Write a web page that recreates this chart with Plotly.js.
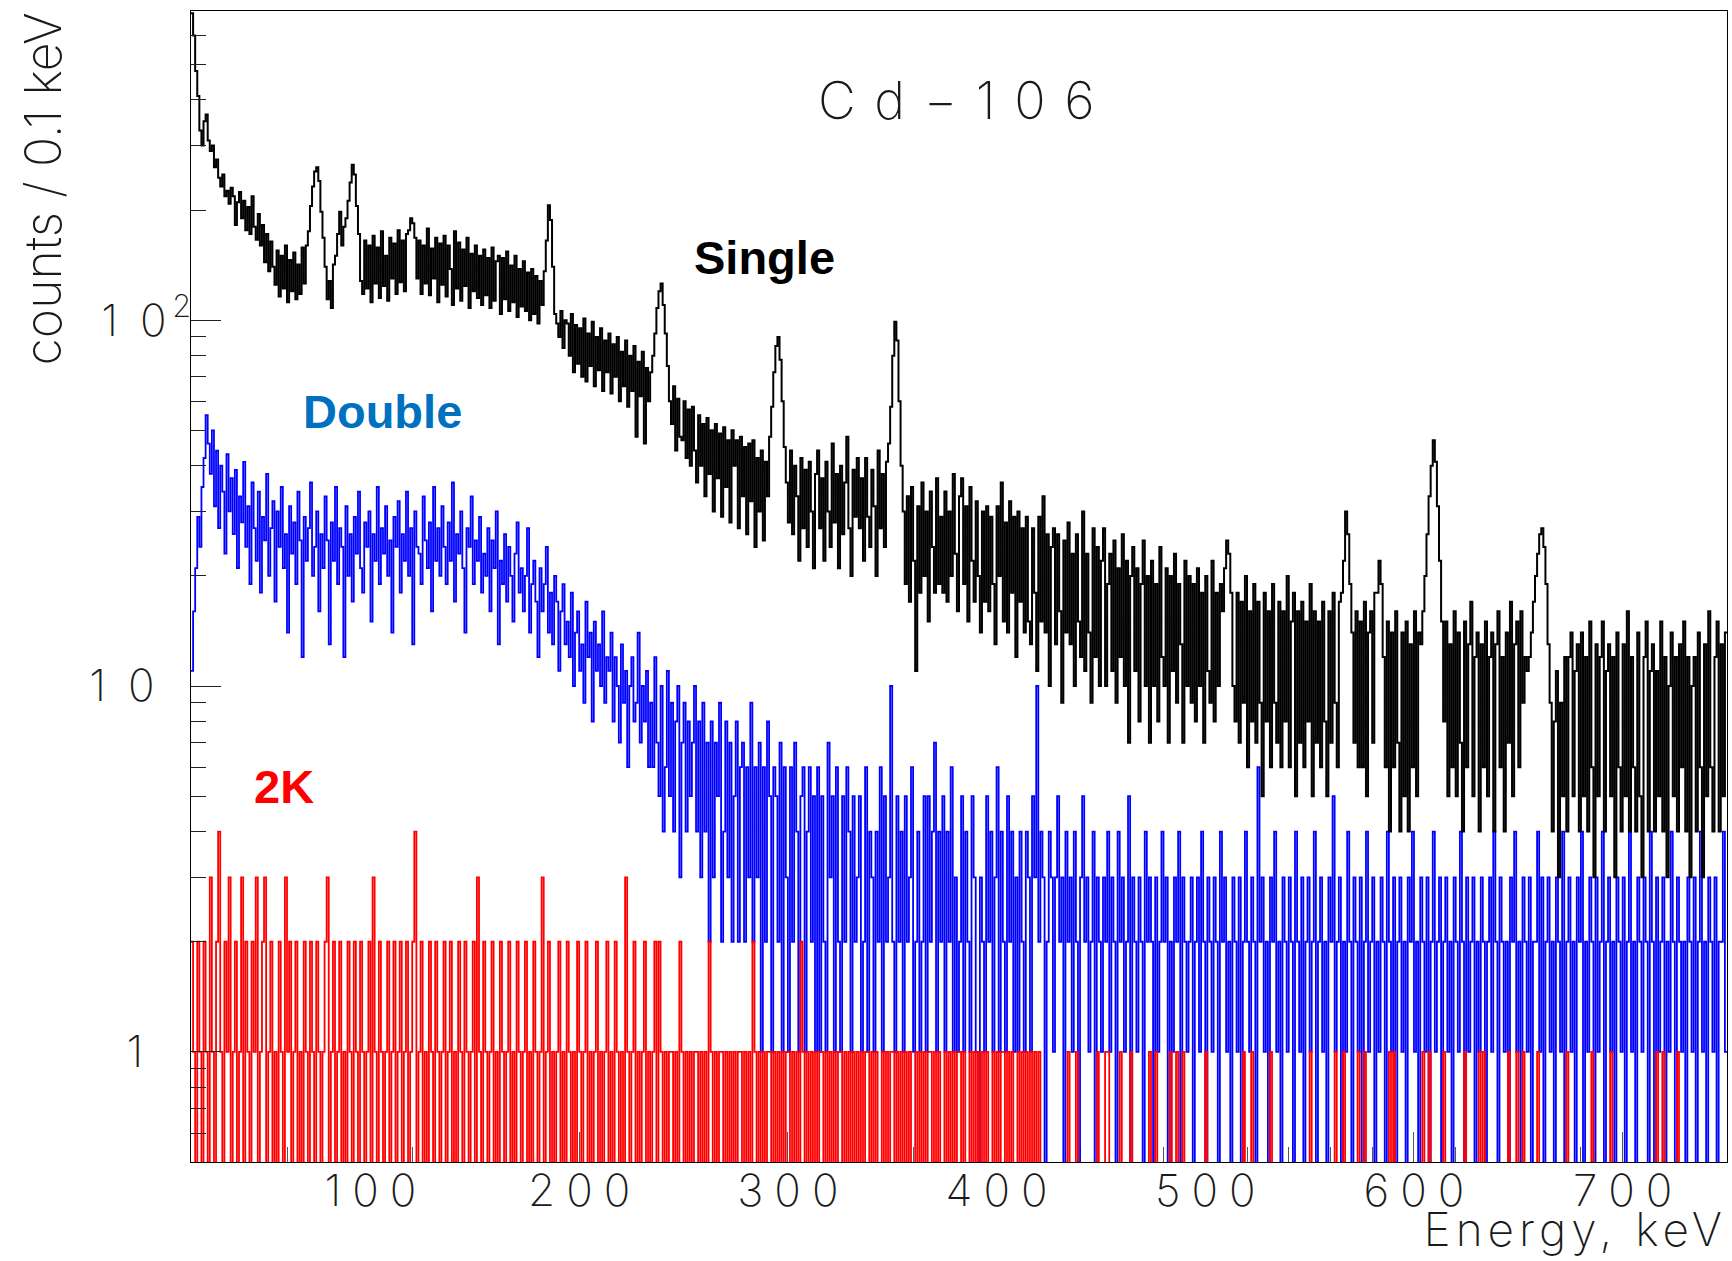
<!DOCTYPE html>
<html>
<head>
<meta charset="utf-8">
<script src="https://cdn.plot.ly/plotly-3.0.1.min.js"></script>
<style>
  html, body { margin: 0; padding: 0; background: #fff; }
  #chart { width: 1732px; height: 1261px; }
  /* wide letter spacing of the thin stroke lettering */
  g.annotation[data-index="0"] text { letter-spacing: 2px; }
  g.annotation[data-index="2"] text { letter-spacing: 5px; }
</style>
</head>
<body>
<div id="chart"></div>
<script>
// Cd-106 spectra: counts per 0.1 keV bin, one value per keV starting at 14 keV.
const binLowEdge = 14;   // keV
const binWidth = 1;      // keV

const singleCounts = [
  690,600,480,410,330,300,350,365,310,290,300,262,275,245,232,250,218,226,208,230,
  218,182,210,224,190,212,176,204,172,218,180,166,195,160,182,144,172,136,164,140,
  125,155,116,150,122,160,112,146,120,153,114,142,118,158,126,160,175,205,232,255,
  262,240,198,168,140,114,128,108,142,150,172,198,160,180,190,212,238,266,250,205,
  172,128,118,165,122,160,112,170,126,158,115,175,124,150,113,168,130,162,118,176,
  127,165,120,172,176,190,184,168,130,165,118,160,126,178,117,157,130,168,112,162,
  125,170,116,160,138,110,175,122,163,113,156,124,168,108,152,120,160,115,150,110,
  156,117,148,108,158,113,145,150,104,148,114,154,106,141,112,150,102,138,109,145,
  106,135,100,138,104,132,98,128,110,136,165,206,188,140,104,98,90,106,84,100,
  98,80,104,72,97,76,95,70,101,68,92,75,99,66,90,73,95,64,88,72,
  92,63,86,70,90,60,82,66,88,58,80,64,85,48,77,62,82,46,74,60,
  72,80,92,108,120,126,110,92,75,60,52,66,44,61,48,47,60,42,57,40,
  58,44,36,55,40,52,33,54,38,50,30,52,37,49,29,51,35,47,28,50,
  40,47,27,48,33,45,26,46,32,47,24,42,30,44,25,41,33,48,58,72,
  85,90,78,60,45,36,28,44,26,40,33,22,42,27,39,24,41,30,21,38,
  44,27,37,22,41,30,24,46,28,38,21,40,26,36,48,27,20,39,29,42,
  27,37,22,42,29,24,39,31,20,44,27,38,24,41,46,58,80,99,88,60,
  40,30,19,33,17,35,22,11,31,18,36,20,30,15,34,24,18,37,19,29,
  18,34,17,30,20,38,23,16,33,37,19,31,15,35,22,17,32,20,14,30,
  17,31,16,29,19,13,31,20,36,15,28,14,32,18,29,12,30,17,27,14,
  29,15,13,27,18,11,29,15,33,14,26,10,24,27,13,26,16,9,25,14,
  28,13,23,10,26,15,12,30,11,23,14,9,27,12,24,10,22,27,10,19,
  23,11,25,9,21,12,26,10,22,7,20,24,11,21,8,19,25,10,20,7,
  22,10,19,8,24,12,10,21,7,20,11,23,9,19,13,7,22,10,20,9,
  19,8,21,10,18,7,20,11,9,22,8,18,10,19,16,21,25,23,18,10,
  8,18,7,17,9,20,6,16,8,19,7,17,9,5,18,8,16,6,19,9,
  7,17,6,16,8,20,6,15,18,5,16,7,17,6,15,8,19,5,16,7,
  15,6,17,8,5,16,7,18,9,6,17,18,22,30,26,19,14,7,16,6,
  15,6,17,5,14,16,7,18,18,22,19,12,6,15,4,14,6,16,7,4,
  14,5,15,4,13,6,16,5,14,13,16,20,26,33,40,47,41,31,22,15,
  8,15,5,13,6,16,5,14,7,4,15,6,13,17,5,12,14,4,13,6,
  15,5,12,14,4,13,16,6,12,4,14,7,17,5,13,15,6,16,9,12,
  11,12,14,17,20,23,26,27,24,19,13,9,4,8,11,3,9,5,12,4,
  12,14,5,11,13,4,14,5,12,4,15,6,3,13,5,12,15,4,11,13,
  5,12,3,14,6,4,13,5,16,4,12,6,4,14,5,3,12,15,4,11,
  13,4,11,5,15,4,12,3,10,14,5,12,4,13,6,15,4,12,3,10,
  12,4,14,6,3,13,5,16,6,4,12,15,4,13,5,14
];

const doubleCounts = [
  11,16,21,29,24,35,42,55,46,38,50,31,44,27,40,34,23,43,30,37,
  26,39,21,33,28,41,24,31,19,36,27,22,34,18,29,25,38,20,27,32,
  17,30,24,35,21,26,14,31,23,28,19,34,25,12,29,22,27,36,20,24,
  30,16,26,21,33,25,13,28,22,35,19,27,24,12,31,20,26,17,29,23,
  34,21,18,28,24,30,15,26,22,35,19,27,23,31,20,25,14,29,24,32,
  18,26,22,34,20,27,13,30,24,23,19,33,25,21,28,16,35,22,27,20,
  31,24,19,28,22,36,17,26,23,30,21,14,27,24,33,19,25,22,29,18,
  23,20,27,16,25,21,30,13,22,19,26,17,24,20,15,23,28,18,21,16,
  20,27,14,19,22,17,12,21,16,19,24,14,18,13,20,17,11,16,19,13,
  15,12,18,10,14,16,11,13,9,17,12,14,8,15,11,13,10,16,9,12,
  11,14,8,12,10,7,13,9,11,6,10,12,8,9,14,7,10,8,11,6,
  9,6,12,7,5,10,4,6,11,5,9,4,8,10,3,7,9,4,8,5,
  7,10,4,8,3,9,4,7,2,8,3,7,5,9,2,4,8,3,7,2,
  5,8,2,6,7,2,6,3,9,2,6,3,7,1,6,2,8,5,1,6,
  5,2,7,1,6,3,1,6,2,7,4,1,5,6,1,4,6,2,5,1,
  6,1,5,2,1,7,3,5,1,6,2,1,5,2,6,4,1,5,2,3,
  5,1,2,6,1,4,3,1,4,2,6,1,5,2,3,10,2,1,5,2,
  4,1,5,2,3,6,1,2,4,1,2,5,1,5,2,4,7,1,4,2,
  5,1,4,2,6,1,3,1,2,5,1,4,2,1,5,3,1,0,3,2,
  1,5,2,4,1,3,6,1,4,2,1,5,2,4,1,3,1,4,2,1,
  4,3,1,5,3,10,2,4,3,0,2,4,3,1,3,5,2,3,0,4,
  2,3,1,4,2,0,3,5,2,3,1,2,4,0,3,2,1,3,2,4,
  1,3,2,0,4,2,3,1,2,5,0,3,2,1,3,2,0,4,2,3,
  2,0,3,1,2,4,2,3,0,2,1,3,2,4,0,3,2,1,2,3,
  0,2,3,1,4,2,0,3,2,1,3,2,0,4,2,3,1,2,0,3,
  2,1,3,0,2,4,2,1,3,2,0,6,2,3,1,2,0,3,2,4,
  1,2,0,3,2,1,3,2,0,4,2,1,3,0,2,3,1,2,4,0,
  2,3,1,2,0,3,2,5,1,2,3,0,2,1,4,2,0,3,2,1,
  3,0,2,4,1,2,3,0,2,1,3,2,0,4,2,1,3,0,2,3,
  1,2,0,3,2,4,1,2,0,3,2,1,3,0,2,4,1,2,3,0,
  2,3,1,2,0,3,2,1,4,2,0,3,1,2,3,0,2,1,3,2,
  0,2,3,1,4,2,0,3,2,1,2,0,3,2,4,1,2,0,3,2,
  1,3,0,2,2,4,1,3,0,2,3,1,2,0,3,2,1,4,0,2,
  3,1,2,0,3,2,4,0,2,1,3,2,0,3,1,2,4,0,2,3,
  1,2,0,3,2,1,3,0,2,4,1,2,0,3,2,1,3,2,0,4,
  2,0,3,1,2,3,0,2,1,4,2,0,3,2,1,2,0,3,2,1,
  3,0,2,4,1,2,0,3,2,1,3,0,2,2,4,1
];

const twoKCounts = [
  2,1,0,2,1,0,2,1,0,3,1,0,2,4,1,0,2,1,3,0,
  1,2,0,1,3,0,2,1,0,2,1,3,0,1,2,3,0,1,2,0,
  1,0,2,1,0,3,1,2,0,1,2,0,1,0,2,1,0,2,1,0,
  2,1,0,1,2,3,0,1,2,0,1,2,0,1,0,2,1,0,2,1,
  0,2,1,0,1,2,0,3,1,0,2,1,0,1,2,0,1,2,0,1,
  2,0,1,2,0,1,2,4,0,1,2,0,1,0,2,1,0,2,1,0,
  1,2,0,1,2,0,1,0,2,1,0,2,1,0,1,2,0,3,1,0,
  2,1,0,1,2,0,1,0,2,1,0,1,2,0,1,0,2,1,0,1,
  2,0,1,0,2,1,0,1,3,0,1,2,0,1,0,1,2,0,1,0,
  2,1,0,1,0,2,1,0,1,2,0,1,0,1,2,0,1,0,1,2,
  0,1,0,2,1,0,1,0,3,1,0,1,2,0,1,0,1,2,0,1,
  0,1,2,0,2,1,0,1,0,1,1,0,1,0,2,1,0,1,0,1,
  0,1,1,0,1,0,1,0,2,1,0,1,0,1,1,0,1,0,1,0,
  1,0,1,1,0,1,0,1,0,2,1,0,1,0,1,0,1,1,0,1,
  0,1,0,1,0,1,1,0,1,0,1,0,2,1,0,1,0,1,0,1,
  0,1,1,0,1,0,1,0,1,0,1,1,0,1,0,1,0,1,0,1,
  0,1,0,1,1,0,1,0,1,0,0,1,0,1,0,1,1,0,1,0,
  1,0,1,0,1,0,0,1,0,1,0,1,0,1,1,0,1,0,1,0,
  0,1,0,1,0,1,0,1,1,0,1,0,0,1,0,1,0,1,0,1,
  0,1,0,0,1,0,1,0,1,1,0,1,0,1,0,0,1,0,1,0,
  1,0,1,0,1,0,1,0,0,0,0,0,0,0,0,0,0,0,0,0,
  1,0,0,0,1,0,0,0,0,0,0,0,0,0,1,0,0,0,1,1,
  0,0,0,0,0,1,0,0,0,0,1,0,0,0,0,0,0,0,0,1,
  0,0,1,0,0,0,0,0,0,1,0,0,1,0,0,1,0,0,0,0,
  0,0,0,0,0,0,1,0,0,0,0,0,0,0,0,0,0,0,0,0,
  0,0,0,0,1,0,0,0,1,0,0,0,0,0,0,0,0,1,0,0,
  0,0,0,0,0,0,0,0,0,0,0,0,0,0,0,0,1,0,0,0,
  0,0,0,0,0,0,0,0,1,0,0,0,1,0,0,0,0,0,0,1,
  0,0,1,0,0,0,0,0,0,0,0,0,0,0,1,0,1,0,0,0,
  0,0,0,0,0,0,0,0,0,0,1,0,0,1,0,0,0,0,0,0,
  1,0,0,0,0,0,0,0,0,0,1,0,0,0,0,0,0,1,0,1,
  0,0,0,0,0,0,0,0,0,0,0,1,0,0,0,1,0,0,1,0,
  0,0,0,0,0,1,0,0,0,0,0,0,0,0,0,0,0,0,0,1,
  0,0,0,0,0,0,0,0,0,0,0,1,0,0,0,0,0,0,0,0,
  1,0,0,0,0,0,0,0,0,0,0,0,0,0,0,0,0,0,0,0,
  0,0,1,0,0,1,0,0,0,0,0,0,1,0,0,0,0,0,0,0,
  0,0,0,0,0,0,0,0,0,0,0,0,0,0,0,0
];

const seriesLabels = ['Single', 'Double', '2K'];
const plotTitle = 'C d \u2212 1 0 6';
const xTitle = 'Energy, keV';
const yTitle = 'counts / 0.1 keV';

const xTickValues = [100, 200, 300, 400, 500, 600, 700];
const xTickLabels = ['1\u20050\u20050', '2\u20050\u20050', '3\u20050\u20050', '4\u20050\u20050',
                     '5\u20050\u20050', '6\u20050\u20050', '7\u20050\u20050'];
const yTickValues = [1, 10, 100];
const yTickLabels = ['1\u2003\u200A', '1\u20020\u2002\u2004', '1\u20020<sup>\u20092</sup>'];
const yMinorTicks = [0.5, 0.6, 0.7, 0.8, 0.9, 2, 3, 4, 5, 6, 7, 8, 9,
                     20, 30, 40, 50, 60, 70, 80, 90, 200, 300, 400, 500, 600];

// Frame geometry in page pixels
const W = 1732, H = 1261;
const frame = { left: 191, right: 1727, top: 11, bottom: 1162 };
const px2x = px => (px - frame.left) / (frame.right - frame.left);
const px2y = py => (frame.bottom - py) / (frame.bottom - frame.top);

// Empty bins cannot sit on a log axis; they are drawn just below the frame and clipped.
const emptyBinLevel = 0.2;

function histogramStep(counts, color, width) {
  const x = counts.map((_, i) => binLowEdge + i * binWidth);
  x.push(binLowEdge + counts.length * binWidth);
  const y = counts.map(v => (v > 0 ? v : emptyBinLevel));
  y.push(y[y.length - 1]);
  return {
    type: 'scatter', mode: 'lines', x: x, y: y,
    line: { shape: 'hv', color: color, width: width },
    hoverinfo: 'skip', showlegend: false
  };
}

const thinFont = { family: 'Inter, "DejaVu Sans", sans-serif', weight: 200, color: '#1a1a1a' };
const boldFont = { family: '"Liberation Sans", Arial, sans-serif', weight: 700, size: 47 };

const traces = [
  histogramStep(doubleCounts, '#0000ff', 1.8),
  histogramStep(twoKCounts, '#ff0000', 1.8),
  histogramStep(singleCounts, '#000000', 2.0)
];

const layout = {
  width: W, height: H,
  margin: { l: frame.left, r: W - frame.right, t: frame.top, b: H - frame.bottom, pad: 0 },
  paper_bgcolor: '#ffffff', plot_bgcolor: '#ffffff',
  showlegend: false,
  xaxis: {
    range: [binLowEdge, 750],
    showgrid: false, zeroline: false,
    showline: true, linecolor: '#000', linewidth: 1, mirror: true,
    ticks: 'inside', ticklen: 30, tickcolor: '#555', tickwidth: 1,
    tickvals: xTickValues, ticktext: xTickLabels,
    tickfont: Object.assign({ size: 44 }, thinFont),
    ticklabelstandoff: -10,
    minor: { ticks: 'inside', ticklen: 15, dtick: 20, tick0: 0, tickcolor: '#555' },
    layer: 'below traces'
  },
  yaxis: {
    type: 'log',
    range: [Math.log10(0.5), Math.log10(700)],
    showgrid: false, zeroline: false,
    showline: true, linecolor: '#000', linewidth: 1, mirror: true,
    ticks: 'inside', ticklen: 30, tickcolor: '#222', tickwidth: 1,
    tickvals: yTickValues, ticktext: yTickLabels,
    tickfont: Object.assign({ size: 44 }, thinFont),
    ticklabelstandoff: -10,
    minor: { ticks: 'inside', ticklen: 15, tickvals: yMinorTicks, tickcolor: '#222' }
  },
  annotations: [
    { text: plotTitle, xref: 'paper', yref: 'paper', x: px2x(959), y: px2y(100),
      xanchor: 'center', yanchor: 'middle', xshift: -2, showarrow: false,
      font: Object.assign({ size: 52 }, thinFont) },
    { text: yTitle, xref: 'paper', yref: 'paper', x: px2x(42), y: px2y(11),
      xanchor: 'center', yanchor: 'top', textangle: -90, showarrow: false,
      font: Object.assign({ size: 50 }, thinFont) },
    { text: xTitle, xref: 'paper', yref: 'paper', x: 1, y: px2y(1229),
      xanchor: 'right', yanchor: 'middle', xshift: -26, showarrow: false,
      font: Object.assign({ size: 46 }, thinFont) },
    { text: seriesLabels[0], xref: 'paper', yref: 'paper', x: px2x(764), y: px2y(257),
      xanchor: 'center', yanchor: 'middle', showarrow: false,
      font: Object.assign({ color: '#000000' }, boldFont) },
    { text: seriesLabels[1], xref: 'paper', yref: 'paper', x: px2x(382), y: px2y(412),
      xanchor: 'center', yanchor: 'middle', showarrow: false,
      font: Object.assign({ color: '#0070c0' }, boldFont) },
    { text: seriesLabels[2], xref: 'paper', yref: 'paper', x: px2x(284), y: px2y(787),
      xanchor: 'center', yanchor: 'middle', showarrow: false,
      font: Object.assign({ color: '#ff0000' }, boldFont) }
  ]
};

Plotly.newPlot('chart', traces, layout, { staticPlot: true, displayModeBar: false });
</script>
</body>
</html>
